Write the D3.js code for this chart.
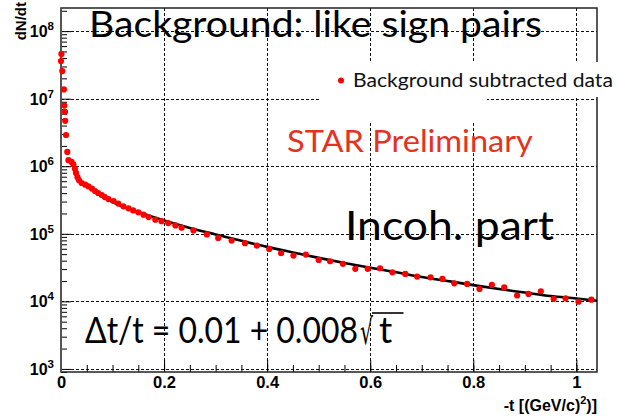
<!DOCTYPE html>
<html>
<head>
<meta charset="utf-8">
<script src="https://cdn.jsdelivr.net/npm/d3@7"></script>
<style>
  body { margin: 0; background: #fff; }
  svg { display: block; }
</style>
</head>
<body>
<script>
// Measured -t values [(GeV/c)^2]
const tValues = [
  0.0, 0.0008, 0.0025, 0.0057, 0.0064, 0.0078, 0.0082, 0.0097, 0.0122, 0.0145,
  0.0205, 0.024, 0.027, 0.029, 0.032, 0.035, 0.040, 0.047, 0.053, 0.060,
  0.066, 0.072, 0.079, 0.085, 0.092, 0.102, 0.111, 0.121, 0.131, 0.140,
  0.150, 0.160, 0.170, 0.183, 0.195, 0.208, 0.222, 0.234, 0.257, 0.283,
  0.305, 0.331, 0.357, 0.380, 0.404, 0.427, 0.451, 0.475, 0.500, 0.522,
  0.547, 0.571, 0.595, 0.619, 0.643, 0.668, 0.691, 0.717, 0.740, 0.763,
  0.788, 0.812, 0.836, 0.860, 0.885, 0.907, 0.931, 0.956, 0.979, 1.004, 1.029
];
// Background subtracted dN/dt
const dNdtValues = [
  3.6e7, 4.6e7, 2.56e7, 1.37e7, 7.9e6, 6.4e6, 4.7e6, 2.9e6, 1.63e6, 1.23e6,
  1.16e6, 1.07e6, 9.2e5, 7.95e5, 6.9e5, 6.2e5, 5.65e5, 5.34e5, 5.05e5, 4.67e5,
  4.3e5, 4.02e5, 3.75e5, 3.5e5, 3.27e5, 3.06e5, 2.8e5, 2.55e5, 2.38e5, 2.22e5,
  2.08e5, 1.92e5, 1.77e5, 1.62e5, 1.54e5, 1.44e5, 1.33e5, 1.23e5, 1.12e5, 9.8e4,
  8.7e4, 7.95e4, 7.26e4, 6.7e4, 5.98e4, 5.15e4, 4.76e4, 4.93e4, 4.11e4, 3.92e4,
  3.59e4, 3.03e4, 3.03e4, 3.09e4, 2.69e4, 2.55e4, 2.33e4, 2.27e4, 2.15e4, 1.85e4,
  1.81e4, 1.53e4, 1.75e4, 1.61e4, 1.22e4, 1.29e4, 1.41e4, 1.09e4, 1.11e4, 9.9e3, 1.06e4
];
// Incoherent-part fit curve
const fitT = [0.085, 0.10, 0.15, 0.20, 0.25, 0.30, 0.35, 0.40, 0.45, 0.50, 0.55,
  0.60, 0.65, 0.70, 0.75, 0.80, 0.85, 0.90, 0.95, 1.00, 1.04];
const fitValues = [3.4e5, 2.95e5, 2.1e5, 1.57e5, 1.22e5, 9.8e4, 7.9e4, 6.4e4, 5.3e4, 4.4e4, 3.7e4,
  3.15e4, 2.7e4, 2.3e4, 2.0e4, 1.74e4, 1.52e4, 1.35e4, 1.2e4, 1.1e4, 1.02e4];

const xTickValues = [0, 0.2, 0.4, 0.6, 0.8, 1];
const xTickLabels = ["0", "0.2", "0.4", "0.6", "0.8", "1"];
const yDecades = [3, 4, 5, 6, 7, 8];

const W = 617, H = 419;
const plot = { left: 61, right: 597, top: 8, bottom: 372 };

const svg = d3.select("body").append("svg")
  .attr("width", W).attr("height", H)
  .style("background", "#fff");

const x = d3.scaleLinear().domain([0, 1.04]).range([plot.left, plot.right]);
const y = d3.scaleLog().domain([900, 2.2e8]).range([plot.bottom, plot.top]);

const gridDash = "3,2";
const tickFont = "'Liberation Sans', Arial, Helvetica, sans-serif";
const slideFont = "Lato, 'Open Sans', sans-serif";

// grid
const grid = svg.append("g").attr("stroke", "#111").attr("stroke-width", 1)
  .attr("stroke-dasharray", gridDash);
grid.selectAll(".gx").data(xTickValues.filter(v => v > 0)).join("line")
  .attr("x1", d => Math.round(x(d)) + 0.5).attr("x2", d => Math.round(x(d)) + 0.5)
  .attr("y1", plot.top).attr("y2", plot.bottom);
grid.selectAll(".gy").data(yDecades).join("line")
  .attr("x1", plot.left).attr("x2", plot.right)
  .attr("y1", d => Math.round(y(Math.pow(10, d))) + 0.5)
  .attr("y2", d => Math.round(y(Math.pow(10, d))) + 0.5);

// x ticks (inward)
const xMinor = d3.range(0, 21).map(i => i * 0.05).filter(v => v <= 1.04);
const xAxisG = svg.append("g").attr("transform", `translate(0,${plot.bottom})`);
xAxisG.call(d3.axisBottom(x).tickValues(xMinor).tickSize(-7).tickFormat(""))
  .call(g => g.select(".domain").remove());
xAxisG.selectAll("line").attr("stroke", "#000");
const xMajorG = svg.append("g").attr("transform", `translate(0,${plot.bottom})`);
xMajorG.call(d3.axisBottom(x).tickValues(xTickValues).tickSize(-12).tickPadding(4)
    .tickFormat((d, i) => xTickLabels[i]))
  .call(g => g.select(".domain").remove());
xMajorG.selectAll("line").attr("stroke", "#000");
xMajorG.selectAll("text")
  .attr("font-family", tickFont).attr("font-weight", "bold")
  .attr("font-size", 16.5).attr("fill", "#000");

// y ticks (inward, log minor)
const yMinor = [];
for (let e = 2; e <= 8; e++) for (let k = 2; k <= 9; k++) {
  const v = k * Math.pow(10, e);
  if (v >= 900 && v <= 2.2e8) yMinor.push(v);
}
const yAxisG = svg.append("g").attr("transform", `translate(${plot.left},0)`);
yAxisG.call(d3.axisLeft(y).tickValues(yMinor).tickSize(-6).tickFormat(""))
  .call(g => g.select(".domain").remove());
yAxisG.selectAll("line").attr("stroke", "#000");
const yMajorG = svg.append("g").attr("transform", `translate(${plot.left},0)`);
yMajorG.call(d3.axisLeft(y).tickValues(yDecades.map(e => Math.pow(10, e))).tickSize(-10).tickFormat(""))
  .call(g => g.select(".domain").remove());
yMajorG.selectAll("line").attr("stroke", "#000");

// y tick labels 10^n
const yLab = svg.append("g").attr("font-family", tickFont).attr("font-weight", "bold").attr("fill", "#000");
yDecades.forEach(e => {
  const yy = y(Math.pow(10, e));
  const t = yLab.append("text").attr("x", 54).attr("y", yy + 6).attr("text-anchor", "end");
  t.append("tspan").attr("font-size", 16).text("10");
  t.append("tspan").attr("font-size", 11.5).attr("dy", -7).text(String(e));
});

// frame
svg.append("rect")
  .attr("x", plot.left).attr("y", plot.top)
  .attr("width", plot.right - plot.left).attr("height", plot.bottom - plot.top)
  .attr("fill", "none").attr("stroke", "#222").attr("stroke-width", 1.5);
svg.append("line")
  .attr("x1", plot.left).attr("x2", plot.left).attr("y1", plot.top).attr("y2", plot.bottom)
  .attr("stroke", "#555").attr("stroke-width", 2);

// fit curve
const fitLine = d3.line().x(d => x(d[0])).y(d => y(d[1])).curve(d3.curveMonotoneX);
svg.append("path")
  .datum(fitT.map((t, i) => [t, fitValues[i]]))
  .attr("d", fitLine)
  .attr("fill", "none").attr("stroke", "#000").attr("stroke-width", 2.6);

// data points
svg.append("g").selectAll("circle")
  .data(tValues.map((t, i) => [t, dNdtValues[i]]))
  .join("circle")
  .attr("cx", d => x(d[0])).attr("cy", d => y(d[1]))
  .attr("r", 3.1).attr("fill", "#ff0000");

// axis titles
svg.append("text")
  .attr("transform", "translate(25.5,2) rotate(-90)")
  .attr("text-anchor", "end")
  .attr("font-family", tickFont).attr("font-weight", "bold").attr("font-size", 15)
  .text("dN/dt");
const xt = svg.append("text")
  .attr("x", 597).attr("y", 411).attr("text-anchor", "end")
  .attr("font-family", tickFont).attr("font-weight", "bold").attr("font-size", 16);
xt.append("tspan").text("-t [(GeV/c)");
xt.append("tspan").attr("font-size", 11).attr("dy", -7).text("2");
xt.append("tspan").attr("dy", 7).text(")]");

// white panels behind the legend and label
svg.append("rect").attr("x", 320).attr("y", 62).attr("width", 297).attr("height", 35).attr("fill", "#fff");
svg.append("rect").attr("x", 320).attr("y", 96).attr("width", 167).attr("height", 26).attr("fill", "#fff");

// Text placed at (x0, baseline) and squeezed horizontally to a set width
function slideText(str, x0, base, width, size, color, family) {
  const t = svg.append("text").attr("x", 0).attr("y", 0)
    .attr("font-family", family || slideFont).attr("font-size", size).attr("fill", color)
    .text(str);
  const natural = t.node().getComputedTextLength();
  const sx = width ? width / natural : 1;
  t.attr("transform", `translate(${x0},${base}) scale(${sx},1)`);
  return t;
}

// legend
svg.append("circle").attr("cx", 341).attr("cy", 80.5).attr("r", 3).attr("fill", "#ff0000");
slideText("Background subtracted data", 353, 87, 260, 20, "#111");

// slide annotations
slideText("Background: like sign pairs", 89, 37, 453, 37, "#000");
slideText("STAR Preliminary", 287, 152, 246, 31, "#e5321e");
slideText("Incoh. part", 345, 240, 209, 41, "#000");

// resolution formula
slideText("\u0394t/t = 0.01 + 0.008", 85, 342.5, 273, 37, "#000");
slideText("\u221A", 360, 344, 13, 36, "#000", "'DejaVu Sans', sans-serif");
slideText("t", 379, 342.5, null, 37, "#000");
svg.append("line").attr("x1", 372).attr("x2", 403.5).attr("y1", 313).attr("y2", 313)
  .attr("stroke", "#000").attr("stroke-width", 1.6);
</script>
</body>
</html>
